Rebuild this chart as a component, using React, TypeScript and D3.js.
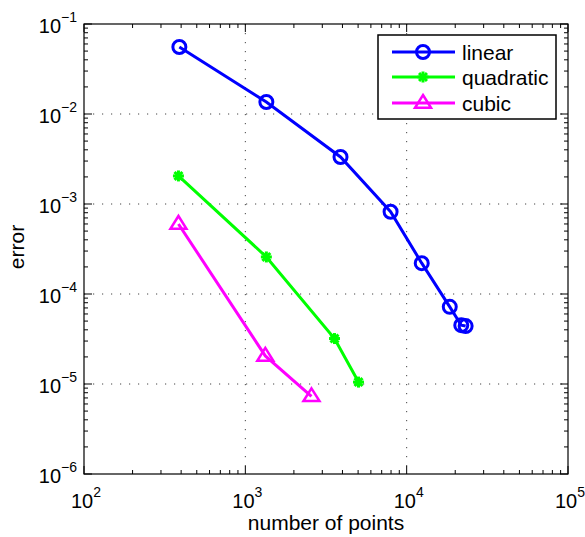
import * as d3 from 'd3';

// number of points and error, one pair of arrays per series
const linearN = [390, 1350, 3890, 7950, 12400, 18500, 21800, 23200];
const linearErr = [0.0555, 0.0136, 0.00333, 8.2e-4, 2.2e-4, 7.2e-5, 4.5e-5, 4.4e-5];
const quadN = [385, 1350, 3570, 5030];
const quadErr = [2.05e-3, 2.58e-4, 3.2e-5, 1.05e-5];
const cubicN = [385, 1330, 2570];
const cubicErr = [6.0e-4, 2.05e-5, 7.3e-6];

const seriesNames = ['linear', 'quadratic', 'cubic'];
const xDecades = [2, 3, 4, 5];
const yDecades = [-1, -2, -3, -4, -5, -6];

const W = 585, H = 537;
const m = {left: 84, right: 568, top: 24, bottom: 474};
const font = '"Liberation Sans", Arial, Helvetica, sans-serif';

function Marker({kind, x, y, color}: {kind: string, x: number, y: number, color: string}){
	if(kind === 'circle'){
		return <circle cx={x} cy={y} r={6.5} fill="none" stroke={color} strokeWidth={3}/>;
	}
	if(kind === 'star'){
		const r = 5.5, d = r * 0.72;
		return <g stroke={color} strokeWidth={3}>
			<line x1={x - r} y1={y} x2={x + r} y2={y}/>
			<line x1={x} y1={y - r} x2={x} y2={y + r}/>
			<line x1={x - d} y1={y - d} x2={x + d} y2={y + d}/>
			<line x1={x - d} y1={y + d} x2={x + d} y2={y - d}/>
		</g>;
	}
	const s = 8;
	return <path d={`M${x},${y - s}L${x + s},${y + s * 0.6}L${x - s},${y + s * 0.6}Z`}
		fill="none" stroke={color} strokeWidth={2.5} strokeLinejoin="miter"/>;
}

export default function App(){
	const x = d3.scaleLog().domain([1e2, 1e5]).range([m.left, m.right]);
	const y = d3.scaleLog().domain([1e-6, 1e-1]).range([m.bottom, m.top]);

	const series = [
		{name: seriesNames[0], n: linearN, e: linearErr, color: '#0000ff', kind: 'circle'},
		{name: seriesNames[1], n: quadN, e: quadErr, color: '#00ff00', kind: 'star'},
		{name: seriesNames[2], n: cubicN, e: cubicErr, color: '#ff00ff', kind: 'tri'},
	];

	const line = d3.line<[number, number]>().x(d => x(d[0])).y(d => y(d[1]));
	const xMinor = x.ticks().filter(v => !xDecades.includes(Math.round(Math.log10(v) * 1000) / 1000));
	const yMinor = y.ticks().filter(v => !yDecades.includes(Math.round(Math.log10(v) * 1000) / 1000));

	const lg = {x0: 378, x1: 556, y0: 35, y1: 119, rows: [52, 77, 103]};

	return (<svg width={W} height={H} style={{position: 'absolute', left: 0, top: 0, background: '#fff'}} fontFamily={font}>
		<rect x={0} y={0} width={W} height={H} fill="#fff"/>
		{/* grid */}
		<g stroke="#444" strokeWidth={1} strokeDasharray="1.2,7.8">
			{xDecades.slice(1, -1).map(p => <line key={'gx' + p} x1={x(10 ** p)} x2={x(10 ** p)} y1={m.top} y2={m.bottom}/>)}
			{yDecades.slice(1, -1).map(p => <line key={'gy' + p} y1={y(10 ** p)} y2={y(10 ** p)} x1={m.left} x2={m.right}/>)}
		</g>
		{/* ticks */}
		<g stroke="#000" strokeWidth={1}>
			{xDecades.map(p => <g key={'tx' + p}>
				<line x1={x(10 ** p)} x2={x(10 ** p)} y1={m.bottom} y2={m.bottom - 8}/>
				<line x1={x(10 ** p)} x2={x(10 ** p)} y1={m.top} y2={m.top + 8}/>
			</g>)}
			{xMinor.map((v, i) => <g key={'mx' + i}>
				<line x1={x(v)} x2={x(v)} y1={m.bottom} y2={m.bottom - 4}/>
				<line x1={x(v)} x2={x(v)} y1={m.top} y2={m.top + 4}/>
			</g>)}
			{yDecades.map(p => <g key={'ty' + p}>
				<line y1={y(10 ** p)} y2={y(10 ** p)} x1={m.left} x2={m.left + 8}/>
				<line y1={y(10 ** p)} y2={y(10 ** p)} x1={m.right} x2={m.right - 8}/>
			</g>)}
			{yMinor.map((v, i) => <g key={'my' + i}>
				<line y1={y(v)} y2={y(v)} x1={m.left} x2={m.left + 4}/>
				<line y1={y(v)} y2={y(v)} x1={m.right} x2={m.right - 4}/>
			</g>)}
		</g>
		<rect x={m.left} y={m.top} width={m.right - m.left} height={m.bottom - m.top} fill="none" stroke="#000" strokeWidth={1.2}/>
		{/* tick labels */}
		<g fill="#000">
			{xDecades.map(p => <text key={'lx' + p} x={x(10 ** p) + 2} y={m.bottom + 34} textAnchor="middle" fontSize={20}>
				10<tspan fontSize={14} dy={-11}>{p}</tspan>
			</text>)}
			{yDecades.map(p => <text key={'ly' + p} x={m.left - 7} y={y(10 ** p) + 9} textAnchor="end" fontSize={20}>
				10<tspan fontSize={14} dy={-11}>{'\u2212' + (-p)}</tspan>
			</text>)}
		</g>
		{/* series */}
		{series.map(s => {
			const pts = s.n.map((v, i) => [v, s.e[i]] as [number, number]);
			return <g key={s.name}>
				<path d={line(pts) || ''} fill="none" stroke={s.color} strokeWidth={3}/>
				{pts.map((p, i) => <Marker key={i} kind={s.kind} x={x(p[0])} y={y(p[1])} color={s.color}/>)}
			</g>;
		})}
		{/* legend */}
		<rect x={lg.x0} y={lg.y0} width={lg.x1 - lg.x0} height={lg.y1 - lg.y0} fill="#fff" stroke="#000" strokeWidth={1.5}/>
		{series.map((s, i) => <g key={'lg' + s.name}>
			<line x1={392} x2={455} y1={lg.rows[i]} y2={lg.rows[i]} stroke={s.color} strokeWidth={3}/>
			<Marker kind={s.kind} x={423} y={lg.rows[i]} color={s.color}/>
			<text x={462} y={lg.rows[i] + 7.5} fontSize={21} fill="#000">{s.name}</text>
		</g>)}
		{/* axis titles */}
		<text x={(m.left + m.right) / 2} y={530} textAnchor="middle" fontSize={21} fill="#000">number of points</text>
		<text transform={`translate(24,${(m.top + m.bottom) / 2 - 2}) rotate(-90)`} textAnchor="middle" fontSize={21} fill="#000">error</text>
	</svg>);
}
